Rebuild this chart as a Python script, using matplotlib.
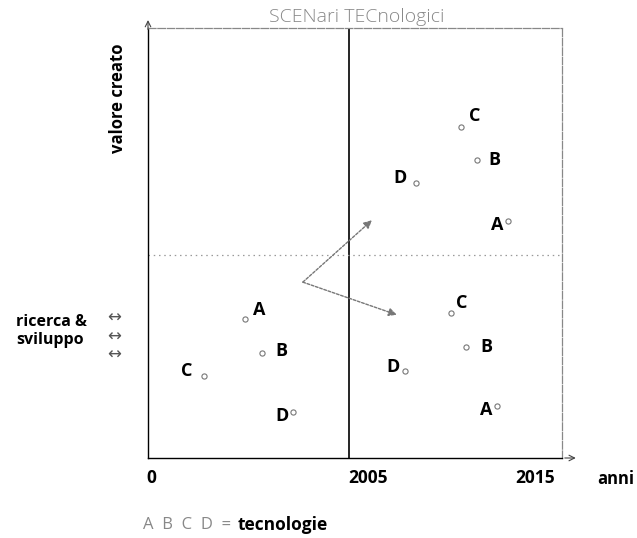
"""Scenari tecnologici: valore creato vs ricerca & sviluppo nel tempo."""

import matplotlib
matplotlib.use("Agg")
import matplotlib.pyplot as plt

plt.rcParams["font.family"] = ["Open Sans", "DejaVu Sans"]

# x/y in units of the chart box (0-100)
X_TICKS = [0, 48.6, 100]
X_TICK_LABELS = ["0", "2005", "2015"]
Y_SPLIT = 47.2

TECH = ["C", "B", "D", "A",
        "A", "B", "C", "D",
        "C", "B", "D", "A"]
TECH_X = [75.6, 79.5, 64.7, 87.0,
          23.4, 27.5, 13.5, 35.0,
          73.2, 76.8, 62.1, 84.3]
TECH_Y = [77.0, 69.3, 64.0, 55.1,
          32.3, 24.4, 19.1, 10.7,
          33.7, 25.8, 20.2, 12.1]

# transition arrows: start point and two end points
ARROW_FROM = (37.4, 40.9)
ARROW_TO = [(54.1, 55.3), (60.1, 33.3)]

# label offsets from each marker, in pixels (dx right, dy up)
LABEL_OFFSETS = [(14, 11), (17, 0), (-16, 5), (-11, -4),
                 (14, 9), (20, 2), (-17, 5), (-11, -4),
                 (11, 10), (20, 0), (-12, 4), (-11, -4)]

W, H = 637, 538
fig = plt.figure(figsize=(W / 100, H / 100), dpi=100)
ax = fig.add_axes([148 / W, (H - 458) / H, 414 / W, 430 / H])
ax.set_xlim(0, 100)
ax.set_ylim(0, 100)
ax.set_xticks([])
ax.set_yticks([])

for side in ["top", "right"]:
    ax.spines[side].set_color("#888888")
    ax.spines[side].set_linewidth(0.9)
    ax.spines[side].set_linestyle((0, (6, 1.5)))
for side in ["left", "bottom"]:
    ax.spines[side].set_color("black")
    ax.spines[side].set_linewidth(1.0)

# axis arrow heads
ax.annotate("", xy=(0, 102.5), xytext=(0, 99), xycoords="data",
            arrowprops=dict(arrowstyle="->", color="#444444", lw=0.8),
            annotation_clip=False)
ax.annotate("", xy=(104, 0), xytext=(100, 0), xycoords="data",
            arrowprops=dict(arrowstyle="->", color="#444444", lw=0.8),
            annotation_clip=False)

# dividers
ax.axvline(X_TICKS[1], color="black", lw=1.2)
ax.axhline(Y_SPLIT, color="#999999", lw=0.9, ls=(0, (1.2, 3)))

# transition arrows
for tip in ARROW_TO:
    ax.annotate("", xy=tip, xytext=ARROW_FROM,
                arrowprops=dict(arrowstyle="-|>", color="#777777", lw=1.0,
                                ls=(0, (2, 1.2)), mutation_scale=12,
                                shrinkA=0, shrinkB=0))

# technologies
ax.scatter(TECH_X, TECH_Y, s=14, facecolors="white", edgecolors="#777777",
           linewidths=0.8, zorder=3)
for t, x, y, (dx, dy) in zip(TECH, TECH_X, TECH_Y, LABEL_OFFSETS):
    ax.annotate(t, (x, y), xytext=(dx * 0.72, dy * 0.72),
                textcoords="offset points", ha="center", va="center",
                fontsize=13, fontweight="bold", color="black")

# x tick labels
for i, (xt, lbl) in enumerate(zip(X_TICKS, X_TICK_LABELS)):
    off = [0.8, 4.5, -6.5][i]
    ax.text(xt + off, -4.6, lbl, ha="center", va="center",
            fontsize=12.5, fontweight="bold")
ax.text(113.0, -5.0, "anni", ha="center", va="center",
        fontsize=12, fontweight="bold")

# title and axis labels
fig.text(357 / W, 1 - 17 / H, "SCENari TECnologici", ha="center",
         va="center", fontsize=14, color="#888888", fontweight="light")
fig.text(118 / W, 1 - 98 / H, "valore creato", rotation=90, ha="center",
         va="center", fontsize=12, fontweight="bold")
fig.text(16 / W, 1 - 331 / H, "ricerca &\nsviluppo", ha="left",
         va="center", fontsize=11.5, fontweight="bold", linespacing=1.1)
for yy in [318, 337, 355]:
    fig.text(114 / W, 1 - yy / H, "\u2194", ha="center", va="center",
             fontsize=12, color="#555555", family="DejaVu Sans")

# footer
fig.text(143 / W, 1 - 525 / H, "A  B  C  D  =", ha="left", va="center",
         fontsize=12, color="#888888")
fig.text(238 / W, 1 - 525 / H, "tecnologie", ha="left", va="center",
         fontsize=12.5, fontweight="bold")

fig.savefig("out.png", dpi=100)
